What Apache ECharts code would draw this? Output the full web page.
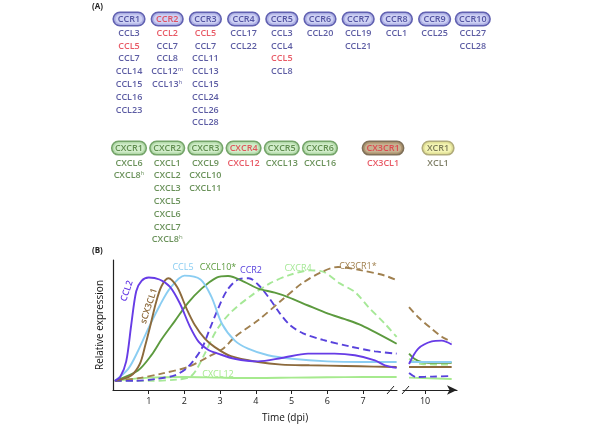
<!DOCTYPE html>
<html><head><meta charset="utf-8">
<script src="https://cdn.jsdelivr.net/npm/echarts@6/dist/echarts.min.js"></script>
<style>html,body{margin:0;padding:0;background:#fff}#c{width:600px;height:437px}</style>
</head><body><div id="c"></div>
<script>
// ---------- Panel A data ----------
const ccReceptors = ['CCR1','CCR2','CCR3','CCR4','CCR5','CCR6','CCR7','CCR8','CCR9','CCR10'];
const ccLigands = [
  ['CCL3','CCL5','CCL7','CCL14','CCL15','CCL16','CCL23'],
  ['CCL2','CCL7','CCL8','CCL12^m','CCL13^h'],
  ['CCL5','CCL7','CCL11','CCL13','CCL15','CCL24','CCL26','CCL28'],
  ['CCL17','CCL22'],
  ['CCL3','CCL4','CCL5','CCL8'],
  ['CCL20'],
  ['CCL19','CCL21'],
  ['CCL1'],
  ['CCL25'],
  ['CCL27','CCL28']
];
const cxcReceptors = ['CXCR1','CXCR2','CXCR3','CXCR4','CXCR5','CXCR6'];
const cxcLigands = [
  ['CXCL6','CXCL8^h'],
  ['CXCL1','CXCL2','CXCL3','CXCL5','CXCL6','CXCL7','CXCL8^h'],
  ['CXCL9','CXCL10','CXCL11'],
  ['CXCL12'],
  ['CXCL13'],
  ['CXCL16']
];
const cx3cReceptors = ['CX3CR1'];
const cx3cLigands = [['CX3CL1']];
const xcReceptors = ['XCR1'];
const xcLigands = [['XCL1']];
const highlighted = ['CCR2','CCL2','CCL5','CXCR4','CXCL12','CX3CR1','CX3CL1'];

// ---------- Panel B data (day, relative expression) ----------
const ccl2Days   = [0.05,0.2,0.37,0.51,0.65,0.8,1.0,1.3,1.59,1.87,2.15,2.4,2.66,2.94,3.4,4.06,4.72,5.46,6.2,6.77,7.33,7.61,7.94];
const ccl2Vals   = [7,10,22,50,76,84,86.5,85,79.5,66.7,49,37,31,28,24,22,24.6,28,28,26.7,22.8,19,17];
const sCx3Days   = [0.05,0.5,0.75,0.9,1.05,1.2,1.36,1.55,1.8,2.06,2.29,2.57,2.85,3.3,4.06,4.72,5.5,6.5,7.3,7.94];
const sCx3Vals   = [7,11,20,34,50,67,80,86,79,62.5,50,39.5,33,26,21.5,19.5,19,18.5,18,17.7];
const ccl5Days   = [0.05,0.42,0.7,1.0,1.31,1.59,2.0,2.45,2.75,3.05,3.41,3.78,4.34,5.0,6.0,7.0,7.94];
const ccl5Vals   = [7,16,30,48,65,78,88,85,72,51,38,31.8,26.7,24,22,21.5,21.5];
const cxcl10Days = [0.05,0.7,1.08,1.36,1.73,2.1,2.48,2.9,3.22,3.69,4.06,4.53,4.9,5.46,6.02,6.49,6.96,7.94];
const cxcl10Vals = [7,15,27,39,53,67,78,86.5,87.7,83,78,74.9,71.5,65,58.7,54.5,49.7,35.6];
const ccr2Days   = [0.05,0.6,1.2,1.73,2.1,2.48,2.71,2.94,3.2,3.5,3.8,4.1,4.39,4.67,4.95,5.32,5.88,6.63,7.33,7.94];
const ccr2Vals   = [7,7,8.5,11.3,17.7,31.8,47,62.5,77,85,86,80,70,59,50,43.6,38.5,33.5,29.7,28];
const cxcr4Days  = [0.05,1.0,1.8,2.15,2.33,2.57,2.9,3.27,3.83,4.39,4.95,5.51,5.88,6.35,6.77,7.15,7.61,7.94];
const cxcr4Vals  = [7,7,8,10,15.4,28,46,59,71.8,82,88.5,92,91,82,75.4,63.8,51,40.8];
const cx3cr1Days = [0.05,0.7,1.36,2.1,2.66,3.08,3.41,4.06,4.72,5.28,5.84,6.3,6.96,7.61,7.94];
const cx3cr1Vals = [7,9,12.6,17.7,25.4,31.8,40.8,53.6,69,81.8,90.8,94.6,92,88,84.4];
const cxcl12Days = [0.05,1.0,2.0,3.0,4.0,5.0,6.0,7.0,7.94];
const cxcl12Vals = [7,9.5,10,9.5,9.2,9.5,9.8,10,10];
// day 10 segment
const ccl2Days10   = [9.55,9.81,10.19,10.47,10.75];
const ccl2Vals10   = [20,31.8,37.4,38,35];
const sCx3Days10   = [9.55,10.75];
const sCx3Vals10   = [17.7,17.7];
const ccl5Days10   = [9.55,10.75];
const ccl5Vals10   = [21.5,21.5];
const cxcl10Days10 = [9.55,9.7,9.9,10.2,10.75];
const cxcl10Vals10 = [28,24,21.5,21,21];
const ccr2Days10   = [9.55,9.75,10.2,10.75];
const ccr2Vals10   = [13,10,10.3,10.8];
const cxcr4Days10  = [9.55,9.9,10.75];
const cxcr4Vals10  = [24,20,19.5];
const cx3cr1Days10 = [9.55,9.81,10.19,10.47,10.75];
const cx3cr1Vals10 = [63.8,56,47,41,37];
const cxcl12Days10 = [9.55,10.75];
const cxcl12Vals10 = [9.5,8.5];
const dayTicks = [1,2,3,4,5,6,7];
const dayTicks10 = [10];

// ---------- styles ----------
const FONT = 'Open Sans';
const RED = '#e2303f';
const fam = {
  cc:   {text:'#33338c', fill:'#c2c5f1', border:'#3a3a9e'},
  cxc:  {text:'#44762f', fill:'#c6e8bd', border:'#528e45'},
  cx3c: {text:'#44762f', fill:'#b89d76', border:'#5f4c30'},
  xc:   {text:'#5e5e40', fill:'#f0f0a0', border:'#9d975a'}
};
const cx3Col = 6.65, xcCol = 8.09;

const pillData = [], ligData = [];
function addGroup(receptors, ligands, f, cols, pillRow, ligRow0) {
  receptors.forEach((r, i) => {
    const col = cols[i];
    const isRed = highlighted.includes(r);
    pillData.push({
      name: r, value: [col, pillRow],
      label: {
        color: isRed ? RED : f.text, backgroundColor: f.fill, borderColor: f.border,
        borderWidth: 1.6, borderRadius: 7, padding: [1, 0, 0, 0],
        width: Math.max(30, r.length * 6.6), align: 'center', lineHeight: 11
      }
    });
    ligands[i].forEach((l, k) => {
      const base = l.split('^')[0];
      const c = highlighted.includes(base) ? RED : f.text;
      ligData.push({
        name: l, value: [col, ligRow0 + k],
        label: { rich: { b: {color: c, fontSize: 9, fontWeight: 600, fontFamily: FONT},
                         s: {color: c, fontSize: 6, fontFamily: FONT, padding: [0,0,5,0]} } }
      });
    });
  });
}
addGroup(ccReceptors, ccLigands, fam.cc, ccReceptors.map((_, i) => i), 0, 1.12);
addGroup(cxcReceptors, cxcLigands, fam.cxc, cxcReceptors.map((_, i) => i), 10.08, 11.25);
addGroup(cx3cReceptors, cx3cLigands, fam.cx3c, [cx3Col], 10.08, 11.25);
addGroup(xcReceptors, xcLigands, fam.xc, [xcCol], 10.08, 11.25);

const lineDefs = [
  ['CXCL12', cxcl12Days, cxcl12Vals, cxcl12Days10, cxcl12Vals10, '#a6ea8e', 'solid'],
  ['CXCR4', cxcr4Days, cxcr4Vals, cxcr4Days10, cxcr4Vals10, '#a6e897', [7,4]],
  ['CX3CR1*', cx3cr1Days, cx3cr1Vals, cx3cr1Days10, cx3cr1Vals10, '#a0804f', [7,4]],
  ['CCR2', ccr2Days, ccr2Vals, ccr2Days10, ccr2Vals10, '#5842dc', [7,4]],
  ['CXCL10*', cxcl10Days, cxcl10Vals, cxcl10Days10, cxcl10Vals10, '#5c9a3e', 'solid'],
  ['CCL5', ccl5Days, ccl5Vals, ccl5Days10, ccl5Vals10, '#8acdf2', 'solid'],
  ['sCX3CL1', sCx3Days, sCx3Vals, sCx3Days10, sCx3Vals10, '#8c6a3c', 'solid'],
  ['CCL2', ccl2Days, ccl2Vals, ccl2Days10, ccl2Vals10, '#673ce6', 'solid']
];
const lineSeries = [];
lineDefs.forEach(([name, d1, v1, d2, v2, color, type]) => {
  const st = {color, width: 1.9, type};
  lineSeries.push({type:'line', name, xAxisIndex:1, yAxisIndex:1, smooth:0.3,
    symbol:'none', lineStyle: st, data: d1.map((d, i) => [d, v1[i]]), silent:true});
  lineSeries.push({type:'line', name, xAxisIndex:2, yAxisIndex:2, smooth:0.3,
    symbol:'none', lineStyle: st, data: d2.map((d, i) => [d, v2[i]]), silent:true});
});

const AX = '#222';
const chart = echarts.init(document.getElementById('c'), null, {renderer:'canvas'});
chart.setOption({
  animation: false,
  backgroundColor: '#fff',
  textStyle: {fontFamily: FONT},
  grid: [
    {left: 109.9, top: 12.6, width: 382, height: 233.6},
    {left: 113, top: 260, width: 284, height: 130},
    {left: 403, top: 260, width: 54, height: 130}
  ],
  xAxis: [
    {gridIndex:0, type:'value', min:-0.5, max:9.5, show:false},
    {gridIndex:1, type:'value', min:0, max:7.95, splitLine:{show:false},
     axisLine:{lineStyle:{color:AX, width:1.2}},
     axisTick:{customValues: dayTicks, length:4, lineStyle:{color:AX}},
     axisLabel:{customValues: dayTicks, fontSize:9, color:'#222', margin:7, fontFamily:FONT}},
    {gridIndex:2, type:'value', min:9.38, max:10.9, splitLine:{show:false},
     axisLine:{symbol:['none','arrow'], symbolSize:[7,10], lineStyle:{color:AX, width:1.2}},
     axisTick:{customValues: dayTicks10, length:4, lineStyle:{color:AX}},
     axisLabel:{customValues: dayTicks10, fontSize:9, color:'#222', margin:7, fontFamily:FONT}}
  ],
  yAxis: [
    {gridIndex:0, type:'value', min:-0.5, max:17.75, inverse:true, show:false},
    {gridIndex:1, type:'value', min:0, max:100, splitLine:{show:false},
     axisLine:{show:true, lineStyle:{color:AX, width:1.2}}, axisTick:{show:false}, axisLabel:{show:false},
     name:'Relative expression', nameLocation:'middle', nameGap:8,
     nameTextStyle:{fontSize:10, color:'#111', fontFamily:FONT}},
    {gridIndex:2, type:'value', min:0, max:100, show:false}
  ],
  series: [
    {type:'scatter', xAxisIndex:0, yAxisIndex:0, symbolSize:1, itemStyle:{color:'transparent'},
     silent:true, data: pillData,
     label:{show:true, position:'inside', fontSize:9, fontWeight:600, fontFamily:FONT, formatter: p => p.name}},
    {type:'scatter', xAxisIndex:0, yAxisIndex:0, symbolSize:1, itemStyle:{color:'transparent'},
     silent:true, data: ligData,
     label:{show:true, position:'inside', formatter: p => {
       const parts = p.name.split('^');
       return parts.length > 1 ? `{b|${parts[0]}}{s|${parts[1]}}` : `{b|${parts[0]}}`;
     }}},
    ...lineSeries
  ],
  graphic: [
    {type:'text', left:92, top:3, style:{text:'(A)', font:`bold 8px "${FONT}"`, fill:'#222'}},
    {type:'text', left:92, top:247, style:{text:'(B)', font:`bold 8px "${FONT}"`, fill:'#222'}},
    {type:'text', x:285, y:418, style:{text:'Time (dpi)', font:`10px "${FONT}"`, fill:'#111', align:'center', verticalAlign:'middle'}},
    {type:'line', shape:{x1:387, y1:394, x2:394, y2:386}, style:{stroke:AX, lineWidth:1}},
    {type:'line', shape:{x1:402, y1:394, x2:409, y2:386}, style:{stroke:AX, lineWidth:1}},
    {type:'text', x:127, y:291, rotation:1.25, style:{text:'CCL2', font:`600 9px "${FONT}"`, fill:'#673ce6', align:'center', verticalAlign:'middle'}},
    {type:'text', x:149, y:306, rotation:1.25, style:{text:'sCX3CL1', font:`600 9px "${FONT}"`, fill:'#8c6a3c', align:'center', verticalAlign:'middle'}},
    {type:'text', x:183, y:267, style:{text:'CCL5', font:`9px "${FONT}"`, fill:'#8acdf2', align:'center', verticalAlign:'middle'}},
    {type:'text', x:218, y:267, style:{text:'CXCL10*', font:`9px "${FONT}"`, fill:'#5c9a3e', align:'center', verticalAlign:'middle'}},
    {type:'text', x:251, y:270, style:{text:'CCR2', font:`9px "${FONT}"`, fill:'#5842dc', align:'center', verticalAlign:'middle'}},
    {type:'text', x:298, y:268, style:{text:'CXCR4', font:`9px "${FONT}"`, fill:'#a6e897', align:'center', verticalAlign:'middle'}},
    {type:'text', x:358, y:266, style:{text:'CX3CR1*', font:`9px "${FONT}"`, fill:'#a0804f', align:'center', verticalAlign:'middle'}},
    {type:'text', x:218, y:374, style:{text:'CXCL12', font:`9px "${FONT}"`, fill:'#a6ea8e', align:'center', verticalAlign:'middle'}}
  ]
});
</script></body></html>
